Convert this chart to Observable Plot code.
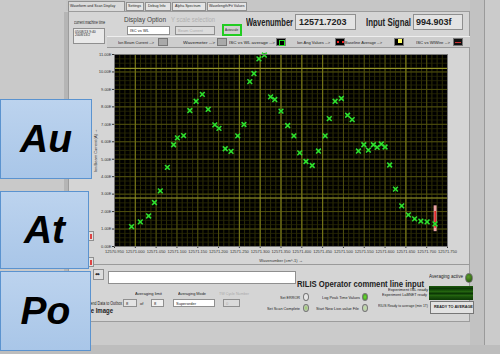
<!DOCTYPE html>
<html><head><meta charset="utf-8">
<script src="https://cdn.jsdelivr.net/npm/d3@7"></script>
<script src="https://cdn.jsdelivr.net/npm/@observablehq/plot@0.6"></script>
<style>
html,body{margin:0;padding:0}
body{width:500px;height:354px;overflow:hidden;background:#cbcbcb;position:relative;font-family:"Liberation Sans",Arial,sans-serif;color:#222}
.a{position:absolute;white-space:nowrap}
.t{position:absolute;white-space:nowrap;display:inline-block;transform-origin:0 0;line-height:1}
.box{position:absolute;box-sizing:border-box;border:1px solid #8f8f8f;background:#e4e4e4;overflow:hidden;white-space:nowrap;line-height:1}
.blue{position:absolute;box-sizing:border-box;border:1.5px solid #5b93cf;background:linear-gradient(#bcd3ee,#a9c6e8);display:flex;align-items:center;justify-content:center;font:italic bold 39px "Liberation Sans",Arial,sans-serif;color:#000;z-index:5}
.led{position:absolute;border-radius:50%;box-sizing:border-box;border:1px solid #777}
.sw{position:absolute;box-sizing:border-box;border:1px solid #777;width:10px;height:8px;top:38px}
</style></head>
<body>
<script>
// ---- data ----
const wavenumber = [12570.991,12571.012,12571.032,12571.046,12571.060,12571.077,12571.092,12571.101,12571.116,12571.131,12571.146,12571.161,12571.175,12571.191,12571.201,12571.216,12571.230,12571.246,12571.261,12571.275,12571.285,12571.297,12571.310,12571.325,12571.335,12571.350,12571.366,12571.381,12571.395,12571.410,12571.425,12571.440,12571.456,12571.466,12571.480,12571.495,12571.510,12571.521,12571.536,12571.549,12571.560,12571.572,12571.581,12571.591,12571.600,12571.611,12571.625,12571.640,12571.656,12571.671,12571.686,12571.701,12571.720];
const signal = [1.14,1.41,1.75,2.52,3.19,4.53,5.83,6.22,6.35,7.79,8.32,8.72,7.86,6.97,6.77,5.60,5.45,6.34,6.99,9.45,9.91,10.75,10.97,8.57,8.42,7.76,6.93,6.34,5.36,4.87,4.64,5.47,6.34,7.33,8.32,8.48,7.52,7.27,5.47,5.83,5.52,5.83,5.68,5.87,5.70,4.67,3.29,2.33,1.81,1.58,1.45,1.41,1.29];
const xTickLabels = ["12570.950","12571.000","12571.050","12571.100","12571.150","12571.200","12571.250","12571.300","12571.350","12571.400","12571.450","12571.500","12571.550","12571.600","12571.650","12571.700","12571.750"];
const yTickLabels = ["0.00E","1.00E","2.00E","3.00E","4.00E","5.00E","6.00E","7.00E","8.00E","9.00E","10.00E","11.00E"];
const brightX = [12571.0, 12571.25, 12571.3, 12571.35, 12571.4, 12571.45, 12571.65];
const cursorWavenumber = [12571.7203];
const cursorSpan = [0.85, 2.33];
const cursorCore = [1.05, 2.0];
const levelCursor = [2.78, 10.2];
const currentWavenumber = "12571.7203";
const inputSignal = "994.903f";
const boxLabels = ["Au","At","Po"];
</script>

<!-- outer frame -->
<div class="a" style="left:0;top:0;width:66px;height:354px;background:#c9c9c9"></div>
<div class="a" style="left:64px;top:12px;width:4px;height:310px;background:#b5b5b5"></div>
<div class="a" style="left:470px;top:0;width:14px;height:354px;background:#c2c2c2;border-right:1px solid #9a9a9a"></div>
<div class="a" style="left:160px;top:0;width:12px;height:2px;background:#3a5fcf"></div>
<div class="a" style="left:190px;top:0;width:40px;height:2px;background:#3a5fcf"></div>
<div class="a" style="left:0;top:345px;width:500px;height:9px;background:#bdbdbd"></div>

<!-- tab strip -->
<div class="a" style="left:66px;top:0;width:404px;height:11px;background:#c6c6c6"></div>
<div class="box" style="left:68px;top:1px;width:57px;height:11px;background:#dadada;font-size:3.6px;padding:3px 1px">Waveform and Scan Display</div>
<div class="box" style="left:126px;top:2px;width:18px;height:9px;font-size:3.6px;padding:2px 1px">Settings</div>
<div class="box" style="left:145px;top:2px;width:26px;height:9px;font-size:3.6px;padding:2px 2px">Debug Info</div>
<div class="box" style="left:172px;top:2px;width:34px;height:9px;font-size:3.6px;padding:2px 2px">Alpha Spectrum</div>
<div class="box" style="left:207px;top:2px;width:40px;height:9px;font-size:3.6px;padding:2px 1px">Wavelength/Fit Values</div>

<!-- main panel -->
<div class="a" style="left:68px;top:11px;width:402px;height:311px;background:#d5d5d5;border:1px solid #9c9c9c;box-sizing:border-box"></div>

<!-- top controls -->
<span class="t" data-w="31" style="left:74px;top:20px;font-size:5px">current machine time</span>
<div class="box" style="left:73px;top:28px;width:32px;height:16px;font-size:3.4px;padding:2px 1px;background:#e9e9e9">05/08/13 9:40<br>2008/13/2</div>
<span class="t" data-w="42" style="left:124px;top:16px;font-size:7px;color:#444">Display Option</span>
<div class="box" style="left:127px;top:26px;width:43px;height:9px;background:#fff;font-size:4px;padding:2px">ISC vs WL</div>
<span class="t" data-w="44" style="left:171px;top:16px;font-size:7px;color:#b0b0b0">Y scale selection</span>
<div class="box" style="left:175px;top:26px;width:40px;height:9px;background:#dcdcdc;color:#aaa;font-size:4px;padding:2px">Beam Current</div>
<div class="box" style="left:222px;top:24px;width:20px;height:12px;border:2px solid #22cc22;background:#cfcfcf;font-size:3px;padding:3px 1px">Autoscale</div>
<span class="t" data-w="47" style="left:246px;top:18px;font-size:10px;font-weight:bold">Wavenumber</span>
<div class="box" style="left:295px;top:14px;width:61px;height:16px;background:#e3e3e3;font-size:9px;font-weight:bold;padding:3px 3px" id="wn"></div>
<span class="t" data-w="45" style="left:366px;top:18px;font-size:10px;font-weight:bold">Input Signal</span>
<div class="box" style="left:413px;top:14px;width:50px;height:16px;background:#e3e3e3;font-size:9px;font-weight:bold;padding:3px 2px" id="is"></div>

<!-- legend row -->
<div class="a" style="left:107px;top:36px;width:363px;height:12px;background:#cdcdcd;border-top:1px solid #eee;border-bottom:1px solid #999;box-sizing:border-box"></div>
<span class="t" data-w="36" style="left:118px;top:41px;font-size:4px">Ion Beam Current --&gt;</span>
<div class="sw" style="left:158px;background:#a9a9a9"></div>
<span class="t" data-w="32" style="left:183px;top:41px;font-size:4px">Wavemeter --&gt;</span>
<div class="sw" style="left:217px;background:#a9a9a9"></div>
<span class="t" data-w="46" style="left:229px;top:41px;font-size:4px">ISC vs WL average --&gt;</span>
<div class="sw" style="left:276px;background:#000"><div class="a" style="left:2px;top:1px;width:4px;height:4px;border:1px solid #2d2"></div></div>
<span class="t" data-w="33" style="left:297px;top:41px;font-size:4px">Ion Ang Values --&gt;</span>
<div class="sw" style="left:335px;background:#000"><div class="a" style="left:1px;top:2px;width:2px;height:2px;background:#e22"></div><div class="a" style="left:6px;top:2px;width:2px;height:2px;background:#e22"></div></div>
<span class="t" data-w="37" style="left:345px;top:41px;font-size:4px">Baseline Average --&gt;</span>
<div class="sw" style="left:394px;background:#000"><div class="a" style="left:3px;top:0px;width:4px;height:4px;background:#ff6"></div></div>
<span class="t" data-w="34" style="left:416px;top:41px;font-size:4px">ISC vs WlWire --&gt;</span>
<div class="sw" style="left:453px;background:#111"><div class="a" style="left:1px;top:3px;width:6px;height:1px;background:#c33"></div></div>

<!-- chart -->
<div class="a" style="left:73px;top:50px;width:397px;height:214px;border-bottom:1px solid #9a9a9a" id="chart"></div>
<div class="box" style="left:86px;top:231px;width:8px;height:10px;background:#e0e0e0"><div class="a" style="left:3px;top:2px;width:2px;height:5px;background:#d44"></div></div>
<div class="box" style="left:86px;top:257px;width:8px;height:10px;background:#e0e0e0"><div class="a" style="left:3px;top:2px;width:2px;height:5px;background:#d44"></div></div>

<!-- bottom controls -->
<div class="box" style="left:93px;top:269px;width:11px;height:11px;font-size:6px;padding:1px;background:#ddd">&#x2B0C;</div>
<div class="box" style="left:108px;top:271px;width:188px;height:13px;background:#fff"></div>
<span class="t" data-w="127" style="left:297px;top:280px;font-size:9px;font-weight:bold">RILIS Operator comment line input</span>
<span class="t" data-w="34" style="left:429px;top:274px;font-size:5px">Averaging active</span>
<div class="led" style="left:465px;top:273px;width:8px;height:10px;background:radial-gradient(circle at 40% 35%,#5a9a2a,#1d4d0a)"></div>

<span class="t" data-w="34" style="left:88px;top:301px;font-size:5px">Send Data to Outbox</span>
<span class="t" data-w="33" style="left:80px;top:307px;font-size:7px;font-weight:bold">Save Image</span>
<span class="t" data-w="27" style="left:135px;top:292px;font-size:4px">Averaging limit</span>
<div class="box" style="left:123px;top:299px;width:14px;height:8px;font-size:4px;padding:2px">8</div>
<span class="t" style="left:140px;top:302px;font-size:4px">of</span>
<div class="box" style="left:151px;top:299px;width:13px;height:8px;background:#f2f2f2;font-size:4px;padding:2px">8</div>
<span class="t" data-w="28" style="left:178px;top:292px;font-size:4px">Averaging Mode</span>
<div class="box" style="left:173px;top:299px;width:42px;height:8px;background:#fff;font-size:4px;padding:2px">Superorder</div>
<span class="t" data-w="30" style="left:219px;top:292px;font-size:4px;color:#aaa">TW Cycle Number</span>
<div class="box" style="left:223px;top:299px;width:17px;height:8px;background:#dadada;color:#aaa;font-size:4px;padding:2px">0</div>

<span class="t" data-w="20" style="left:280px;top:296px;font-size:4px">Set ERROR</span>
<div class="led" style="left:303px;top:293px;width:6px;height:8px;background:#e6e6e6"></div>
<span class="t" data-w="33" style="left:267px;top:307px;font-size:4px">Set Scan Complete</span>
<div class="led" style="left:303px;top:304px;width:6px;height:8px;background:radial-gradient(#9acb6a,#cfcfcf)"></div>
<span class="t" data-w="38" style="left:322px;top:296px;font-size:4px">Log Peak Time Values</span>
<div class="led" style="left:362px;top:293px;width:6px;height:8px;background:radial-gradient(#6fe03a,#3a8a1a)"></div>
<span class="t" data-w="43" style="left:316px;top:307px;font-size:4px">Start New Live-value File</span>
<div class="led" style="left:362px;top:304px;width:6px;height:8px;background:radial-gradient(#bfe3a0,#bdbdbd)"></div>

<span class="t" data-w="40" style="left:388px;top:289px;font-size:3.6px">Experiment ISL ready</span>
<span class="t" data-w="45" style="left:382px;top:294px;font-size:3.6px">Experiment LaBNET ready</span>
<span class="t" data-w="50" style="left:378px;top:305px;font-size:3.6px">RILIS Ready to average (min 1T)</span>
<div class="a" style="left:429px;top:286px;width:44px;height:5px;background:linear-gradient(#1d5a0d,#0c3806,#1d5a0d)"></div>
<div class="a" style="left:429px;top:291px;width:44px;height:5px;background:linear-gradient(#2a7012,#0c3806,#2a7012)"></div>
<div class="a" style="left:429px;top:296px;width:44px;height:4px;background:linear-gradient(#1d5a0d,#0c3806)"></div>
<div class="box" style="left:430px;top:301px;width:44px;height:13px;background:#e2e2e2;border:1px solid #777;font-size:3.8px;font-weight:bold;padding:4px 3px">READY TO AVERAGE</div>

<!-- blue element boxes -->
<div class="blue" id="b0" style="left:0;top:99px;width:92px;height:80px"></div>
<div class="blue" id="b1" style="left:0;top:191px;width:89px;height:78px"></div>
<div class="blue" id="b2" style="left:0;top:271px;width:91px;height:80px"></div>

<script>
document.getElementById("wn").textContent = currentWavenumber;
document.getElementById("is").textContent = inputSignal;
boxLabels.forEach((s,i)=>document.getElementById("b"+i).textContent = s);

const data = wavenumber.map((w,i)=>({w, s: signal[i]}));
const xTicks = xTickLabels.map(Number);
const yTicks = yTickLabels.map((_,i)=>i);
const minorX = d3.range(0, 65).map(i => 12570.95 + i*0.0125).filter(v => v <= 12571.7501);
const minorY = d3.range(0, 45).map(i => i*0.25);

const chart = Plot.plot({
  width: 397, height: 214,
  marginLeft: 41, marginTop: 4, marginRight: 23, marginBottom: 18,
  style: {background: "transparent", fontSize: "4px", fontFamily: "Liberation Sans, Arial, sans-serif", color: "#333", overflow: "visible"},
  x: {domain: [12570.95, 12571.75], ticks: xTicks, tickFormat: d => xTickLabels[xTicks.findIndex(t => Math.abs(t-d) < 1e-6)], tickSize: 2, tickPadding: 1.5, label: "Wavenumber (cm^-1)", labelAnchor: "center", labelOffset: 15},
  y: {domain: [0, 11], ticks: yTicks, tickFormat: d => yTickLabels[Math.round(d)], tickSize: 2, tickPadding: 1, label: "Ion Beam Current (A)", labelAnchor: "center", labelOffset: 20},
  marks: [
    Plot.frame({fill: "#000", stroke: null}),
    Plot.ruleX(minorX, {stroke: "#2e2e06", strokeWidth: 1}),
    Plot.ruleY(minorY, {stroke: "#2a2a06", strokeWidth: 0.8}),
    Plot.ruleX(xTicks, {stroke: "#4e4e0e", strokeWidth: 1}),
    Plot.ruleY(yTicks, {stroke: "#50500f", strokeWidth: 1}),
    Plot.ruleX(brightX, {stroke: "#77771a", strokeWidth: 1}),
    Plot.ruleY(levelCursor, {stroke: "#99992a", strokeWidth: 1}),
    Plot.ruleX(cursorWavenumber, {y1: cursorSpan[0], y2: cursorSpan[1], stroke: "#e9a2a2", strokeWidth: 3}),
    Plot.ruleX(cursorWavenumber, {y1: cursorCore[0], y2: cursorCore[1], stroke: "#e21d1d", strokeWidth: 1.5}),
    Plot.dot(data, {x: "w", y: "s", symbol: "square", r: 2, fill: "#0b480b", stroke: null}),
    Plot.dot(data, {x: "w", y: "s", symbol: "times", r: 2.3, stroke: "#2fe02f", strokeWidth: 1.5}),
    Plot.frame({stroke: "#777", strokeWidth: 1})
  ]
});
document.getElementById("chart").appendChild(chart);

document.querySelectorAll("[data-w]").forEach(el => {
  const w = +el.dataset.w, s = el.getBoundingClientRect().width;
  if (s > 0) el.style.transform = `scaleX(${w/s})`;
});
</script>
</body></html>
